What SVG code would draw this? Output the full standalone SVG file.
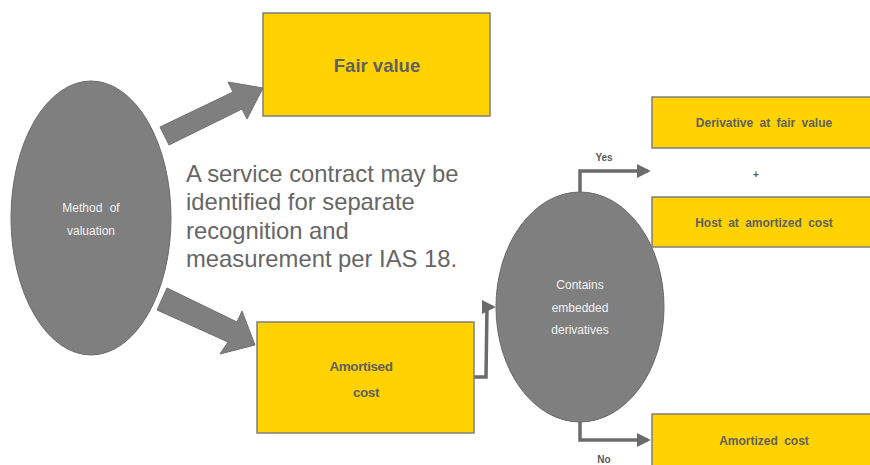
<svg xmlns="http://www.w3.org/2000/svg" width="870" height="465" viewBox="0 0 870 465">
<style>
.box{fill:#FFD200;stroke:#7f7f7f;stroke-width:1.5}
.ell{fill:#7f7f7f;stroke:#6a6a6a;stroke-width:1}
.blk{fill:#7f7f7f;stroke:#707070;stroke-width:1}
.con{fill:none;stroke:#6b6b6b;stroke-width:3.5}
.bt{font-family:"Liberation Sans",Arial,sans-serif;font-weight:bold;fill:#616161;text-anchor:middle}
.wt{font-family:"Liberation Sans",Arial,sans-serif;fill:#f2f2f2;text-anchor:middle;font-size:12px}
.lb{font-family:"Liberation Sans",Arial,sans-serif;font-weight:bold;fill:#5a5a5a;text-anchor:middle;font-size:10px}
.mt{font-family:"Liberation Sans",Arial,sans-serif;fill:#666;font-size:23.8px}
</style>
<defs>
<marker id="ah" markerWidth="4" markerHeight="4" refX="3.2" refY="2" orient="auto" markerUnits="strokeWidth">
<path d="M0,0 L4,2 L0,4 Z" fill="#6b6b6b"/>
</marker>
</defs>
<g id="connectors">
<polygon class="blk" points="160,127 233,92 228,82 263,88 247,119 242,109 169,145"/>
<polygon class="blk" points="167,288 237,322 242,311 255,345 220,354 228,342 157,310"/>
<polyline class="con" points="474,377 486,377 487,307 493,307" marker-end="url(#ah)"/>
<polyline class="con" points="580,193 580,171 648,171" marker-end="url(#ah)"/>
<polyline class="con" points="580,422 580,440 648,440" marker-end="url(#ah)"/>
<text class="lb" x="604" y="161">Yes</text>
<text class="lb" x="604" y="463">No</text>
</g>
<g id="fair-value">
<rect class="box" x="263" y="13" width="227" height="103"/>
<text class="bt" x="377" y="72" font-size="18.5">Fair value</text>
</g>
<g id="method">
<ellipse class="ell" cx="91" cy="218" rx="80" ry="137"/>
<text class="wt" x="91" y="212" word-spacing="4">Method of</text>
<text class="wt" x="91" y="235">valuation</text>
</g>
<g id="note">
<text class="mt" x="186" y="182">A service contract may be</text>
<text class="mt" x="186" y="210">identified for separate</text>
<text class="mt" x="186" y="239">recognition and</text>
<text class="mt" x="186" y="267">measurement per IAS 18.</text>
</g>
<g id="amortised">
<rect class="box" x="257" y="322" width="217" height="111"/>
<text class="bt" x="361" y="371" font-size="13.5" letter-spacing="-0.4">Amortised</text>
<text class="bt" x="366" y="397" font-size="13.5" letter-spacing="-0.4">cost</text>
</g>
<g id="contains">
<ellipse class="ell" cx="580" cy="307" rx="84" ry="115"/>
<text class="wt" x="580" y="289">Contains</text>
<text class="wt" x="580" y="312">embedded</text>
<text class="wt" x="580" y="334">derivatives</text>
</g>
<g id="derivative">
<rect class="box" x="652" y="97" width="230" height="51"/>
<text class="bt" x="764" y="127" font-size="12" word-spacing="3">Derivative at fair value</text>
</g>
<g id="plus">
<text class="lb" x="756" y="178" font-size="12">+</text>
</g>
<g id="host">
<rect class="box" x="652" y="197" width="230" height="50"/>
<text class="bt" x="764" y="227" font-size="12" word-spacing="3">Host at amortized cost</text>
</g>
<g id="amortized-cost">
<rect class="box" x="652" y="414" width="230" height="60"/>
<text class="bt" x="764" y="445" font-size="12" word-spacing="3">Amortized cost</text>
</g>
</svg>
